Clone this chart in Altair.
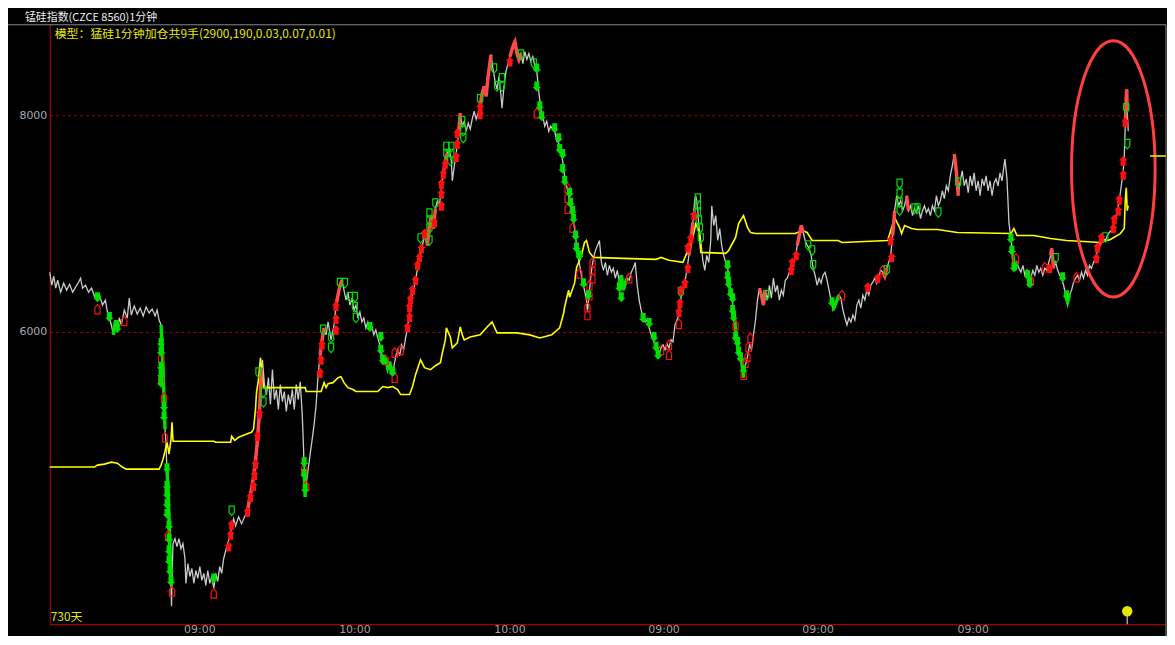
import altair as alt
import pandas as pd

# ---------------- data ----------------
# price path: (bar index, price)
price = [
(0,6551),(2,6431),(4,6514),(6,6404),(8,6477),(11,6367),(14,6450),(17,6386),(20,6440),(23,6367),(26,6413),(29,6459),(31,6496),(33,6404),(36,6431),(39,6367),(42,6404),(45,6331),(48,6294),(50,6340),(53,6248),(56,6294),(58,6184),(60,6129),(62,6064),(64,5973),(66,6092),(68,6019),(70,6129),(72,6064),(75,6202),(78,6129),(80,6312),(82,6156),(85,6239),(88,6165),(91,6220),(94,6147),(97,6230),(100,6175),(103,6211),(106,6147),(108,6202),(110,6110),(112,6064),
(113,5881),(114,5652),(115,5376),(116,5101),(117,4964),(117.5,4826),(118,4734),(119,4551),(120,4276),(121,3954),(122,3679),(122.5,3468),(123,3725),(124,4046),(126,4092),(128,4019),(130,4092),(132,4000),(134,4046),(136,3909),(137,3679),(139,3863),(141,3743),(143,3817),(145,3679),(147,3798),(149,3725),(151,3835),(153,3707),(155,3771),(157,3661),(159,3798),(161,3679),(163,3743),(165,3633),(167,3771),(169,3698),(171,3835),(173,3771),(175,3909),(177,3982),(179,4046),(181,4110),(183,4202),(185,4276),(187,4211),(190,4294),(193,4230),(196,4294),(199,4349),(201,4459),(203,4551),(205,4661),(207,4808),(209,5009),(211,5266),(212,5468),(213,5670),(214,5743),(216,5514),(218,5422),(220,5578),(222,5330),(224,5652),(226,5376),(228,5468),(230,5285),(232,5514),(234,5358),(236,5450),(238,5266),(240,5422),(242,5330),(244,5468),(246,5285),(248,5514),(250,5376),(252,5541),(254,5239),(255,5009),(256,4734),(257,4477),(258,4597),(260,4734),(262,4872),(264,5009),(266,5147),(268,5330),(270,5606),(272,5789),(274,5927),(276,6037),(278,5973),(280,6092),(283,5927),(286,6064),(288,6248),(290,6340),(292,6431),(294,6477),(296,6386),(298,6294),(300,6367),(302,6248),(304,6312),(306,6202),(308,6248),(310,6129),(312,6184),(314,6092),(316,6129),(318,6037),(320,6092),(322,6019),(324,6055),(326,5973),(328,6019),(330,5945),(332,5881),(334,5789),(336,5698),(338,5762),(340,5670),(342,5725),(344,5606),(346,5670),(348,5771),(350,5835),(352,5780),(354,5881),(356,5835),(358,5945),(360,6037),(362,6184),(364,6312),(366,6386),(368,6477),(370,6587),(372,6679),(374,6752),(376,6844),(378,6918),(380,6798),(382,6982),(384,7074),(386,6954),(388,7138),(390,7211),(392,7165),(394,7321),(396,7468),(398,7578),(400,7652),(402,7688),(404,7578),(405,7395),(407,7532),(409,7652),(411,7807),(413,8019),(415,7899),(417,7945),(419,7853),(421,7927),(423,7872),(425,7963),(427,8037),(429,7963),(431,8019),(433,8083),(435,8202),(437,8266),(439,8175),(441,8358),(443,8496),(444,8560),(446,8422),(448,8312),(450,8239),(452,8358),(454,8175),(455,8064),(457,8266),(459,8404),(461,8477),(463,8541),(465,8606),(467,8661),(468,8679),(470,8569),(472,8514),(474,8569),(476,8477),(478,8587),(480,8514),(482,8569),(484,8496),(486,8541),(488,8459),(490,8404),(492,8220),(494,8055),(496,7991),(498,7899),(500,7945),(502,7853),(504,7899),(506,7872),(508,7853),(510,7762),(512,7743),(514,7688),(516,7578),(518,7441),(520,7349),(522,7257),(524,7165),(526,7074),(528,6954),(530,6798),(532,6679),(534,6569),(536,6459),(538,6386),(540,6294),(541,6184),(543,6386),(545,6569),(547,6679),(549,6752),(551,6798),(553,6844),(555,6642),(557,6569),(559,6642),(561,6523),(563,6615),(565,6551),(567,6587),(569,6496),(571,6569),(573,6459),(575,6523),(577,6386),(579,6450),(581,6496),(583,6477),(585,6551),(587,6587),(589,6642),(591,6431),(593,6294),(595,6202),(597,6129),(599,6092),(601,6110),(603,6037),(605,5973),(607,5927),(609,5881),(611,5817),(613,5789),(615,5853),(617,5881),(619,5835),(621,5890),(623,5853),(625,5927),(627,5908),(629,6064),(631,6110),(633,6156),(635,6312),(637,6404),(639,6459),(641,6569),(643,6707),(645,6844),(647,7009),(649,7230),(650,7257),(652,7119),(653,6982),(655,6844),(657,6661),(659,6569),(661,6707),(663,6642),(665,6844),(666,7165),(668,6982),(670,7074),(672,6844),(674,6954),(676,6798),(678,6707),(680,6642),(682,6587),(684,6431),(686,6340),(688,6202),(690,6019),(692,5881),(694,5808),(696,5743),(698,5578),(700,5698),(702,5771),(704,5881),(706,5835),(708,5973),(710,6110),(712,6294),(714,6404),(716,6340),(718,6248),(720,6386),(722,6294),(724,6431),(726,6312),(728,6496),(730,6367),(732,6431),(734,6294),(736,6386),(738,6340),(740,6477),(742,6496),(744,6551),(746,6587),(748,6642),(750,6679),(752,6798),(754,6890),(756,6982),(758,6918),(760,6844),(762,6798),(764,6771),(766,6707),(768,6587),(770,6523),(772,6431),(774,6496),(776,6450),(778,6523),(780,6551),(782,6477),(784,6386),(786,6294),(788,6202),(790,6248),(792,6294),(794,6340),(796,6312),(798,6202),(800,6129),(802,6064),(804,6129),(806,6092),(808,6156),(810,6110),(812,6248),(814,6294),(816,6220),(818,6340),(820,6294),(822,6386),(824,6340),(826,6431),(828,6459),(830,6496),(832,6450),(834,6514),(836,6569),(838,6551),(840,6514),(842,6587),(844,6642),(846,6707),(848,6890),(850,7119),(852,7257),(854,7165),(856,7211),(858,7119),(860,7165),(862,7257),(864,7119),(866,7165),(868,7074),(870,7138),(872,7101),(874,7165),(876,7046),(878,7119),(880,7165),(882,7101),(884,7138),(886,7074),(888,7165),(890,7119),(892,7257),(894,7165),(896,7211),(898,7303),(900,7230),(902,7349),(904,7303),(906,7441),(908,7532),(910,7642),(912,7486),(914,7257),(916,7395),(918,7486),(920,7349),(922,7413),(924,7285),(926,7441),(928,7349),(930,7468),(932,7303),(934,7395),(936,7257),(938,7413),(940,7349),(942,7441),(944,7303),(946,7395),(948,7257),(950,7376),(952,7413),(954,7349),(956,7468),(958,7395),(960,7532),(961,7596),(963,7413),(965,7009),(967,6863),(969,6707),(971,6569),(973,6642),(975,6587),(977,6551),(979,6615),(981,6523),(983,6569),(985,6459),(987,6496),(989,6569),(991,6523),(993,6615),(995,6551),(997,6587),(999,6523),(1001,6587),(1003,6569),(1005,6642),(1007,6707),(1008,6771),(1010,6587),(1012,6642),(1014,6569),(1016,6523),(1018,6496),(1020,6431),(1022,6340),(1024,6275),(1026,6340),(1028,6386),(1030,6459),(1032,6496),(1034,6523),(1036,6477),(1038,6551),(1040,6496),(1042,6569),(1044,6523),(1046,6615),(1048,6587),(1050,6642),(1052,6679),(1054,6752),(1056,6798),(1058,6844),(1060,6863),(1062,6844),(1064,6890),(1066,6918),(1068,6936),(1070,6982),(1072,7046),(1074,7119),(1076,7211),(1078,7349),(1080,7486),(1081,7624),(1082,7899),(1083,8175),(1083.5,8239),(1084,8037),(1085,7853),
]

# yellow model line: (bar index, value)
yellow_line = [
(0,4753),(45,4753),(48,4771),(55,4780),(62,4798),(68,4789),(73,4753),(77,4734),(110,4734),(112,4771),(114,4826),(116,4899),(118,4982),(120,4872),(122,5009),(123,5165),(124,4991),(165,4991),(167,4982),(182,4982),(183,5037),(186,5000),(190,5028),(195,5046),(200,5065),(203,5074),(205,5101),(207,5285),(208,5441),(210,5560),(212,5762),(214,5606),(215,5486),(257,5486),(258,5450),(273,5450),(276,5532),(278,5486),(280,5523),(285,5532),(290,5578),(293,5587),(296,5532),(300,5486),(305,5468),(308,5450),(330,5450),(335,5496),(340,5486),(345,5496),(350,5468),(353,5422),(362,5422),(365,5496),(368,5606),(372,5716),(373,5743),(377,5670),(383,5652),(388,5688),(393,5716),(395,5808),(398,5927),(399,6037),(403,5954),(405,5853),(410,5899),(413,6046),(415,5973),(417,5927),(423,5954),(433,5973),(440,6046),(445,6092),(450,5991),(457,5991),(470,5991),(483,5973),(493,5945),(505,5973),(513,6037),(517,6175),(518,6230),(522,6386),(523,6321),(528,6450),(530,6596),(533,6661),(535,6707),(538,6826),(540,6844),(543,6734),(547,6688),(577,6679),(610,6670),(615,6688),(623,6661),(637,6642),(642,6752),(647,6872),(650,7000),(653,6936),(655,6734),(680,6725),(683,6752),(690,6872),(693,7000),(698,7074),(702,6963),(705,6918),(710,6908),(750,6908),(757,6936),(762,6918),(767,6844),(793,6844),(797,6826),(843,6844),(847,6963),(850,7055),(855,6963),(857,6908),(860,6982),(867,6954),(873,6945),(893,6945),(913,6918),(967,6908),(970,6954),(973,6890),(990,6890),(1007,6863),(1023,6844),(1057,6826),(1067,6853),(1077,6908),(1081,6954),(1082,7211),(1083,7330),(1084,7119),(1085,7165),
]

# bar-index ranges where the price is drawn in red (rising) / green (falling)
red_segments = [(199,213),(272,276),(287,295),(378,388),(396,400),(410,413),(433,444),(463,475),(642,648),(714,721),(752,758),(837,842),(847,850),(862,865),(909,914),(1007,1010),(1055,1060),(1082,1084)]
green_segments = [(48,50),(64,68),(112,116),(118,122),(256,257),(333,345),(530,533),(573,582),(688,698),(787,795),(969,973),(983,987),(1022,1027)]

# signal markers: (bar index, price)
buy_filled = [(180,4019),(182,4129),(183,4220),(199,4340),(202,4477),(205,4578),(206,4679),(207,4780),(209,5037),(211,5248),(272,5624),(273,5743),(274,5881),(288,6019),(288,6120),(288,6239),(360,6046),(362,6138),(362,6230),(363,6303),(365,6386),(368,6477),(370,6615),(372,6688),(374,6771),(377,6908),(387,7009),(394,7165),(394,7275),(394,7367),(396,7459),(398,7551),(409,7615),(410,7734),(410,7835),(433,8009),(433,8074),(463,8496),(633,6184),(634,6266),(635,6386),(639,6450),(642,6587),(642,6780),(645,6863),(648,7074),(746,6569),(747,6642),(751,6707),(823,6413),(833,6496),(846,6844),(847,6688),(1006,6587),(1053,6679),(1054,6780),(1058,6872),(1070,6954),(1071,7037),(1075,7119),(1076,7220),(1080,7450),(1080,7578),(1082,7936)]
sell_filled = [(48,6321),(60,6138),(67,6064),(68,6037),(112,5899),(112,5817),(112,5679),(112,5606),(112,5532),(115,5312),(115,5220),(118,4743),(118,4578),(118,4505),(118,4413),(118,4321),(120,4211),(120,4092),(120,3982),(120,3890),(121,3798),(122,3698),(165,3725),(256,4798),(256,4688),(257,4551),(322,6046),(333,5954),(333,5835),(335,5743),(345,5633),(490,8431),(490,8266),(493,8083),(495,7991),(508,7881),(512,7789),(513,7688),(516,7642),(516,7505),(518,7395),(523,7285),(524,7193),(526,7119),(527,7046),(529,6890),(530,6780),(533,6707),(537,6450),(542,6340),(573,6413),(575,6321),(597,6129),(603,6083),(608,5954),(610,5863),(612,5789),(682,6615),(682,6514),(683,6450),(685,6358),(687,6312),(687,6202),(688,6138),(690,5954),(692,5908),(693,5817),(695,5762),(698,5652),(787,6275),(967,6863),(968,6752),(970,6597),(984,6523),(986,6450),(1019,6505),(1023,6340)]
buy_hollow = [(48,6211),(75,6101),(112,5762),(112,5560),(115,5395),(116,5028),(119,4120),(123,3606),(165,3587),(256,4734),(258,4578),(338,5743),(347,5578),(347,5808),(353,5835),(490,8019),(521,7330),(521,7239),(521,7138),(526,6963),(533,6541),(543,6431),(543,6340),(541,6230),(541,6156),(546,6642),(546,6569),(546,6496),(583,6496),(615,5835),(623,5881),(623,5789),(633,6074),(690,6064),(698,5606),(700,5716),(702,5771),(703,5863),(705,5945),(797,6340),(838,6569),(972,6679),(987,6477),(1001,6597),(1033,6505)]
sell_hollow = [(183,4349),(210,5624),(215,5441),(215,5349),(275,6019),(283,5945),(283,5853),(292,6450),(297,6450),(302,6321),(307,6321),(307,6230),(308,6129),(373,6863),(382,6844),(382,6954),(382,7028),(382,7092),(388,7184),(399,7707),(404,7707),(399,7642),(404,7642),(403,7578),(415,7945),(416,7853),(416,7789),(433,8147),(447,8431),(450,8266),(455,8340),(455,8266),(474,8560),(487,8477),(635,6367),(652,7230),(652,7165),(652,7101),(653,7028),(654,6954),(655,6863),(721,6340),(763,6798),(767,6752),(768,6615),(842,6569),(855,7367),(855,7275),(855,7193),(855,7119),(870,7138),(873,7138),(894,7101),(914,7376),(1012,6679),(1062,6872),(1083,8064),(1084,7734)]

# axis ticks
y_ticks = [6000, 8000]
x_tick_pos = [151, 307, 463, 618, 773, 929]
x_tick_labels = ["09:00", "10:00", "10:00", "09:00", "09:00", "09:00"]

# annotations
title_text = "锰硅指数(CZCE 8560)1分钟"
model_text = "模型：猛硅1分钟加仓共9手(2900,190,0.03,0.07,0.01)"
days_text = "730天"
ellipse_center = (1070, 7505)
last_marker = (1084, 3422)
right_tick = (1107, 1123, 7624)

# ---------------- build chart ----------------
X_MAX = 1123
Y_MIN, Y_MAX = 3302.8, 8844.0
xs = alt.Scale(domain=[0, X_MAX], nice=False, zero=False)
ys = alt.Scale(domain=[Y_MIN, Y_MAX], nice=False, zero=False)
xaxis = alt.Axis(labels=False, ticks=False, grid=False, domainColor="#cc0000",
                 domainWidth=1, title=None)
yaxis = alt.Axis(values=y_ticks, format="d", grid=True, gridColor="#a80000",
                 gridDash=[3, 3], gridWidth=1, domainColor="#cc0000", domainWidth=1,
                 ticks=False, tickSize=0, labelPadding=3, labelColor="#a4acb4",
                 labelFont="DejaVu Sans", labelFontSize=11, title=None)

X = lambda f="x": alt.X(f"{f}:Q", scale=xs, axis=xaxis)
Y = lambda f="v": alt.Y(f"{f}:Q", scale=ys, axis=yaxis)

price_df = pd.DataFrame(price, columns=["x", "v"])
yellow_df = pd.DataFrame(yellow_line, columns=["x", "v"])


def seg_df(ranges, tag):
    rows = []
    for i, (a, b) in enumerate(ranges):
        for x, v in price:
            if a <= x <= b:
                rows.append({"x": x, "v": v, "seg": f"{tag}{i}"})
    return pd.DataFrame(rows)


red_df = seg_df(red_segments, "r")
green_df = seg_df(green_segments, "g")

# block arrows (filled) and pointed boxes (hollow)
UP_FILLED = "M-0.5,1L-0.5,-0.1L-0.85,-0.1L0,-1L0.85,-0.1L0.5,-0.1L0.5,1Z"
DOWN_FILLED = "M-0.5,-1L0.5,-1L0.5,0.1L0.85,0.1L0,1L-0.85,0.1L-0.5,0.1Z"
UP_HOLLOW = "M-0.55,1L-0.55,-0.35L0,-1L0.55,-0.35L0.55,1Z"
DOWN_HOLLOW = "M-0.55,-1L0.55,-1L0.55,0.35L0,1L-0.55,0.35Z"
ELLIPSE = "M0,-1A0.326,1 0 1,1 0,1A0.326,1 0 1,1 0,-1Z"

layers = []
layers.append(alt.Chart(price_df).mark_line(color="#cacaca", strokeWidth=1.3)
              .encode(x=X(), y=Y()))
layers.append(alt.Chart(yellow_df).mark_line(color="#ffff00", strokeWidth=1.6)
              .encode(x=X(), y=Y()))
layers.append(alt.Chart(red_df).mark_line(color="#ff4a4a", strokeWidth=3.5)
              .encode(x=X(), y=Y(), detail="seg:N"))
layers.append(alt.Chart(green_df).mark_line(color="#00e000", strokeWidth=3.5)
              .encode(x=X(), y=Y(), detail="seg:N"))

for pts, shape, col, filled, size in [
    (buy_hollow, UP_HOLLOW, "#ff1010", False, 90),
    (sell_hollow, DOWN_HOLLOW, "#00e000", False, 90),
    (buy_filled, UP_FILLED, "#ff1010", True, 100),
    (sell_filled, DOWN_FILLED, "#00e000", True, 100),
]:
    df = pd.DataFrame(pts, columns=["x", "v"])
    layers.append(alt.Chart(df).mark_point(shape=shape, size=size, filled=filled,
                                           color=col, opacity=1, strokeWidth=1.2)
                  .encode(x=X(), y=Y()))

ell_df = pd.DataFrame([ellipse_center], columns=["x", "v"])
layers.append(alt.Chart(ell_df).mark_point(shape=ELLIPSE, size=66564, filled=False,
                                           color="#ff4040", opacity=1, strokeWidth=3)
              .encode(x=X(), y=Y()))

rt_df = pd.DataFrame([right_tick], columns=["x", "x2", "v"])
layers.append(alt.Chart(rt_df).mark_rule(color="#ffff00", strokeWidth=1.5)
              .encode(x=X(), x2="x2:Q", y=Y()))

lm_df = pd.DataFrame([{"x": last_marker[0], "v": last_marker[1], "v0": 3386, "v1": Y_MIN}])
layers.append(alt.Chart(lm_df).mark_rule(color="#a0a0a0", strokeWidth=1.5)
              .encode(x=X(), y=Y("v0"), y2="v1:Q"))
layers.append(alt.Chart(lm_df).mark_point(shape="circle", size=110, filled=True,
                                          color="#e6e600", opacity=1)
              .encode(x=X(), y=Y()))

xt_df = pd.DataFrame({"x": x_tick_pos, "label": x_tick_labels})
layers.append(alt.Chart(xt_df).mark_text(font="DejaVu Sans", fontSize=11, color="#a0a0a0",
                                         baseline="alphabetic", align="center")
              .encode(x=X(), y=alt.value(613), text="label:N"))

one = pd.DataFrame({"a": [0]})
layers.append(alt.Chart(one).mark_rule(color="#8a8a8a", strokeWidth=1)
              .encode(x=alt.value(-42), x2=alt.value(1123), y=alt.value(1)))
layers.append(alt.Chart(one).mark_rule(color="#8a8a8a", strokeWidth=1)
              .encode(x=alt.value(1123), y=alt.value(1), y2=alt.value(620)))

layers.append(alt.Chart(pd.DataFrame({"t": [title_text]}))
              .mark_text(font="Noto Sans CJK SC", fontSize=11, color="#eeeeee",
                         align="left", baseline="middle")
              .encode(x=alt.value(-25), y=alt.value(-6), text="t:N"))
layers.append(alt.Chart(pd.DataFrame({"t": [model_text]}))
              .mark_text(font="Noto Sans CJK SC", fontSize=12, color="#e8e800",
                         align="left", baseline="middle")
              .encode(x=alt.value(5), y=alt.value(10), text="t:N"))
layers.append(alt.Chart(pd.DataFrame({"t": [days_text]}))
              .mark_text(font="Noto Sans CJK SC", fontSize=12, color="#e8e800",
                         align="left", baseline="middle")
              .encode(x=alt.value(1), y=alt.value(597), text="t:N"))

chart = (alt.layer(*layers)
         .properties(width=1123, height=604, autosize="none",
                     padding={"left": 42, "top": 14, "right": 1, "bottom": 10})
         .configure(background="black")
         .configure_view(strokeWidth=0))

chart.save("out.html", embed_options={"renderer": "svg", "actions": False})
